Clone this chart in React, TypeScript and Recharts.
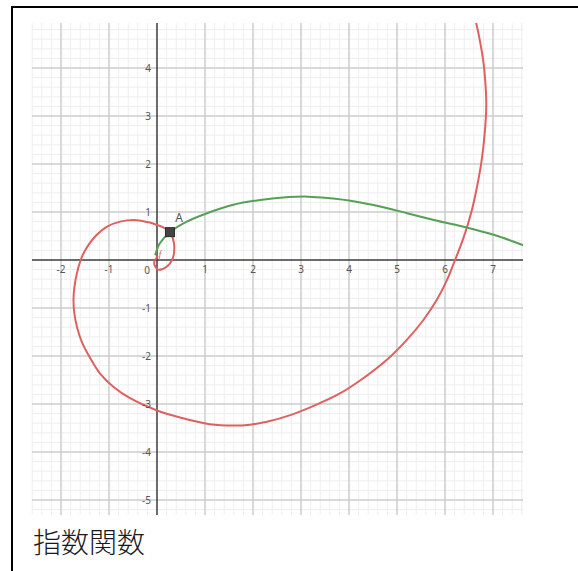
import { ComposedChart, Line, XAxis, YAxis, ReferenceLine, ReferenceDot } from "recharts";

// red spiral
const spiralX = [
  0.02, -0.06, 0.02, 0.2, 0.33, 0.36, 0.33, 0.27, 0.13, 0.0, -0.15, -0.42, -0.77, -1.05, -1.26,
  -1.43, -1.53, -1.59, -1.67, -1.72, -1.74, -1.72, -1.66, -1.56, -1.41, -1.19, -0.91, -0.56, -0.01,
  0.48, 1.1, 1.59, 1.94, 2.29, 2.84, 3.31, 3.81, 4.23, 4.82, 5.2, 5.55, 5.83, 6.04, 6.21, 6.37,
  6.46, 6.56, 6.66, 6.76, 6.83, 6.86, 6.84, 6.8, 6.73, 6.65, 6.6,
];
const spiralY = [
  0.08, -0.06, -0.2, -0.14, 0.04, 0.28, 0.45, 0.58, 0.68, 0.73, 0.78, 0.83, 0.8, 0.69, 0.52,
  0.31, 0.14, 0.0, -0.28, -0.56, -0.83, -1.12, -1.42, -1.72, -2.01, -2.36, -2.64, -2.88, -3.13,
  -3.28, -3.42, -3.45, -3.43, -3.37, -3.21, -3.02, -2.78, -2.51, -2.05, -1.67, -1.25, -0.83, -0.42,
  0.0, 0.42, 0.69, 1.04, 1.49, 2.05, 2.67, 3.23, 3.71, 4.13, 4.55, 4.93, 5.1,
];

// green curve
const greenX = [-0.04, 0.06, 0.27, 0.62, 1.03, 1.59, 2.15, 2.75, 3.15, 3.56, 4.12, 4.67, 5.23, 5.79, 6.48, 7.03, 7.65];
const greenY = [0.1, 0.35, 0.58, 0.8, 0.97, 1.15, 1.25, 1.31, 1.32, 1.29, 1.22, 1.11, 0.97, 0.83, 0.67, 0.52, 0.3];

const pointA = { x: 0.27, y: 0.58 };

const xTicks = [-2, -1, 1, 2, 3, 4, 5, 6, 7];
const yTicks = [-5, -4, -3, -2, -1, 1, 2, 3, 4];
const caption = "指数関数";

const spiralData = spiralX.map((x, i) => ({ x, y: spiralY[i] }));
const greenData = greenX.map((x, i) => ({ x, y: greenY[i] }));

const X_DOMAIN: [number, number] = [-2.604, 7.625];
const Y_DOMAIN: [number, number] = [-5.3125, 4.9375];

// grid lines every 0.2
const minorX: number[] = [];
for (let i = -13; i <= 38; i++) if (i % 5 !== 0) minorX.push(i / 5);
const minorY: number[] = [];
for (let i = -26; i <= 24; i++) if (i % 5 !== 0) minorY.push(i / 5);
const majorX = [-2, -1, 1, 2, 3, 4, 5, 6, 7];
const majorY = [-5, -4, -3, -2, -1, 1, 2, 3, 4];

const tickStyle = { fontSize: 10, fill: "#555", fontFamily: "Noto Sans" };

// centripetal catmull-rom, so the spiral stays smooth where x turns back
const catmullRom = (context: any) => {
  let pts: number[][] = [];
  return {
    areaStart() {},
    areaEnd() {},
    lineStart() {
      pts = [];
    },
    point(x: number, y: number) {
      pts.push([+x, +y]);
    },
    lineEnd() {
      const n = pts.length;
      if (!n) return;
      context.moveTo(pts[0][0], pts[0][1]);
      const len = (a: number[], b: number[]) => Math.sqrt(Math.hypot(a[0] - b[0], a[1] - b[1]));
      for (let i = 0; i < n - 1; i++) {
        const p0 = pts[Math.max(i - 1, 0)];
        const p1 = pts[i];
        const p2 = pts[i + 1];
        const p3 = pts[Math.min(i + 2, n - 1)];
        const l01 = len(p0, p1), l12 = len(p1, p2), l23 = len(p2, p3);
        let c1x = p1[0], c1y = p1[1], c2x = p2[0], c2y = p2[1];
        if (l01 > 1e-6) {
          const a = 2 * l01 * l01 + 3 * l01 * l12 + l12 * l12;
          const m = 3 * l01 * (l01 + l12);
          c1x = (p1[0] * a - p0[0] * l12 * l12 + p2[0] * l01 * l01) / m;
          c1y = (p1[1] * a - p0[1] * l12 * l12 + p2[1] * l01 * l01) / m;
        }
        if (l23 > 1e-6) {
          const b = 2 * l23 * l23 + 3 * l23 * l12 + l12 * l12;
          const m = 3 * l23 * (l23 + l12);
          c2x = (p2[0] * b + p1[0] * l23 * l23 - p3[0] * l12 * l12) / m;
          c2y = (p2[1] * b + p1[1] * l23 * l23 - p3[1] * l12 * l12) / m;
        }
        context.bezierCurveTo(c1x, c1y, c2x, c2y, p2[0], p2[1]);
      }
    },
  };
};

const SquareDot = (props: any) => (
  <rect x={props.cx - 4.5} y={props.cy - 4.5} width={9} height={9} fill="#444" stroke="#2a2a2a" strokeWidth={1} />
);

export default function App() {
  return (
    <div style={{ position: "relative", width: 578, height: 571, overflow: "hidden", background: "#fff" }}>
      <style>{"body{margin:0;overflow:hidden}"}</style>
      {/* frame */}
      <div
        style={{
          position: "absolute",
          left: 11,
          top: 6,
          width: 640,
          height: 640,
          border: "2px solid #000",
        }}
      />
      <div style={{ position: "absolute", left: 0, top: 0 }}>
        <ComposedChart width={578} height={571} margin={{ top: 23, right: 55, bottom: 56, left: 32 }}>
          <XAxis type="number" dataKey="x" domain={X_DOMAIN} allowDataOverflow hide />
          <YAxis type="number" dataKey="y" domain={Y_DOMAIN} allowDataOverflow hide />

          {minorX.map((v) => (
            <ReferenceLine key={`mx${v}`} x={v} stroke="#eeeeee" strokeWidth={1} />
          ))}
          {minorY.map((v) => (
            <ReferenceLine key={`my${v}`} y={v} stroke="#eeeeee" strokeWidth={1} />
          ))}
          {majorX.map((v) => (
            <ReferenceLine key={`Mx${v}`} x={v} stroke="#cdcdcd" strokeWidth={1.5} />
          ))}
          {majorY.map((v) => (
            <ReferenceLine key={`My${v}`} y={v} stroke="#cdcdcd" strokeWidth={1.5} />
          ))}
          <ReferenceLine x={0} stroke="#3a3a3a" strokeWidth={1.5} />
          <ReferenceLine y={0} stroke="#3a3a3a" strokeWidth={1.5} />

          {xTicks.map((v) => (
            <ReferenceDot
              key={`xl${v}`}
              x={v}
              y={0}
              r={0}
              fill="none"
              stroke="none"
              label={{ value: String(v), position: "bottom", offset: 6, style: tickStyle }}
            />
          ))}
          {yTicks.map((v) => (
            <ReferenceDot
              key={`yl${v}`}
              x={0}
              y={v}
              r={0}
              fill="none"
              stroke="none"
              label={{ value: String(v), position: "left", offset: 6, style: tickStyle }}
            />
          ))}
          <ReferenceDot
            x={0}
            y={0}
            r={0}
            fill="none"
            stroke="none"
            label={{ value: "0", position: "insideTopRight", offset: 7, style: tickStyle }}
          />

          <Line
            data={spiralData}
            dataKey="y"
            type={catmullRom as any}
            stroke="#e06060"
            strokeWidth={2}
            dot={false}
            isAnimationActive={false}
          />
          <Line
            data={greenData}
            dataKey="y"
            type={catmullRom as any}
            stroke="#56a056"
            strokeWidth={2}
            dot={false}
            isAnimationActive={false}
          />
          <ReferenceDot x={0.06} y={0.12} r={0} fill="none" stroke="none"
            label={{ value: "f", position: "center", style: { fontSize: 10, fill: "#e06060", fontStyle: "italic" } }} />
          <ReferenceDot x={pointA.x} y={pointA.y} r={4.5} shape={SquareDot} />
          <ReferenceDot x={pointA.x + 0.19} y={pointA.y + 0.3} r={0} fill="none" stroke="none"
            label={{ value: "A", position: "center", style: { fontSize: 12, fill: "#555", fontFamily: "Noto Sans" } }} />
        </ComposedChart>
      </div>
      <div
        style={{
          position: "absolute",
          left: 33,
          top: 527,
          fontSize: 28,
          lineHeight: "28px",
          fontWeight: 300,
          fontFamily: "'Noto Sans CJK JP', sans-serif",
          color: "#1a1a1a",
        }}
      >
        {caption}
      </div>
    </div>
  );
}
